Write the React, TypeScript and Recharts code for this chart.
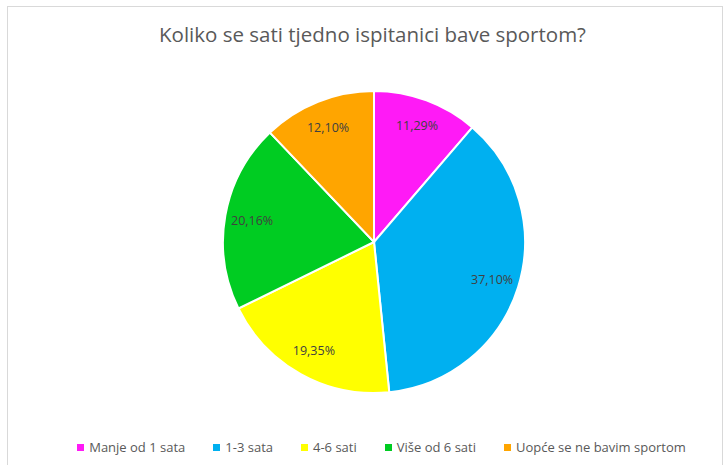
import { PieChart, Pie, Cell, Legend } from "recharts";

const categories = [
  "Manje od 1 sata",
  "1-3 sata",
  "4-6 sati",
  "Više od 6 sati",
  "Uopće se ne bavim sportom",
];
const shares = [11.29, 37.1, 19.35, 20.16, 12.1];
const colors = ["#FF1AF6", "#00B0F0", "#FFFF00", "#00CC22", "#FFA500"];

const data = categories.map((name, i) => ({ name, value: shares[i] }));

const RAD = Math.PI / 180;
const font = "'Open Sans', 'Liberation Sans', sans-serif";

function renderLabel(props: any) {
  const { cx, cy, midAngle, outerRadius, value } = props;
  const r = outerRadius * 0.82;
  const x = cx + r * Math.cos(-midAngle * RAD);
  const y = cy + r * Math.sin(-midAngle * RAD);
  return (
    <text
      x={x}
      y={y}
      fill="#404040"
      fontSize={12.5}
      fontFamily={font}
      textAnchor="middle"
      dominantBaseline="central"
    >
      {value.toFixed(2).replace(".", ",") + "%"}
    </text>
  );
}

function renderLegend() {
  return (
    <div
      style={{
        display: "flex",
        justifyContent: "center",
        gap: 28,
        fontFamily: font,
        fontSize: 13,
        color: "#595959",
      }}
    >
      {categories.map((c, i) => (
        <div key={c} style={{ display: "flex", alignItems: "center" }}>
          <span
            style={{
              display: "inline-block",
              width: 7,
              height: 7,
              background: colors[i],
              marginRight: 5,
            }}
          />
          {c}
        </div>
      ))}
    </div>
  );
}

export default function App() {
  return (
    <div
      style={{
        position: "absolute",
        left: 0,
        top: 0,
        width: 725,
        height: 465,
        background: "#fff",
        overflow: "hidden",
      }}
    >
      <div
        style={{
          position: "absolute",
          left: 7,
          top: 6,
          width: 714,
          height: 470,
          border: "1px solid #d9d9d9",
        }}
      />
      <div
        style={{
          position: "absolute",
          top: 20,
          left: 0,
          width: 745,
          textAlign: "center",
          fontFamily: font,
          fontSize: 20.5,
          color: "#595959",
        }}
      >
        Koliko se sati tjedno ispitanici bave sportom?
      </div>
      <div style={{ position: "absolute", left: 0, top: 0 }}>
        <PieChart width={725} height={465} margin={{ top: 0, right: 0, bottom: 0, left: 0 }}>
          <Pie
            data={data}
            dataKey="value"
            nameKey="name"
            cx={374}
            cy={242}
            outerRadius={151}
            startAngle={90}
            endAngle={-270}
            stroke="#fff"
            strokeWidth={2}
            label={renderLabel}
            labelLine={false}
            isAnimationActive={false}
          >
            {data.map((d, i) => (
              <Cell key={d.name} fill={colors[i]} />
            ))}
          </Pie>
          <Legend
            content={renderLegend}
            wrapperStyle={{ top: 438, left: 0, width: 763 }}
          />
        </PieChart>
      </div>
    </div>
  );
}
